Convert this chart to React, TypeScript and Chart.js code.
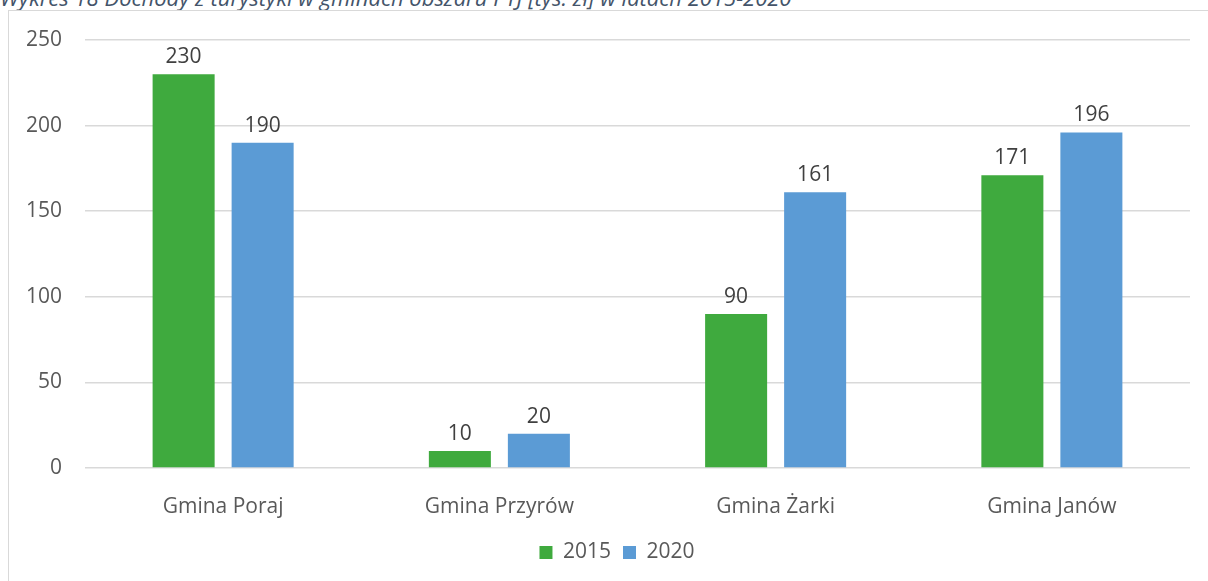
import React, { useEffect, useRef } from "react";
import { Chart, registerables } from "chart.js";

Chart.register(...registerables);

const titleText = "Wykres 18 Dochody z turystyki w gminach obszaru PTJ [tys. zł] w latach 2015-2020";
const categories = ["Gmina Poraj", "Gmina Przyrów", "Gmina Żarki", "Gmina Janów"];
const series2015 = [230, 10, 90, 171];
const series2020 = [190, 20, 161, 196];
const seriesLabels = ["2015", "2020"];
const yTicks = [0, 50, 100, 150, 200, 250];

const FONT = "'Open Sans', 'Noto Sans', sans-serif";
const TEXT = "#595959";
const FS = 21;

const dataLabelPlugin = {
  id: "dataLabels",
  afterDatasetsDraw(chart: any) {
    const ctx = chart.ctx;
    ctx.save();
    ctx.font = `${FS}px ${FONT}`;
    ctx.fillStyle = "#404040";
    ctx.textAlign = "center";
    ctx.textBaseline = "middle";
    chart.data.datasets.forEach((ds: any, i: number) => {
      const meta = chart.getDatasetMeta(i);
      meta.data.forEach((bar: any, j: number) => {
        ctx.fillText(String(ds.data[j]), bar.x, bar.y - 17);
      });
    });
    ctx.restore();
  },
};

const legendShiftPlugin = {
  id: "legendShift",
  afterLayout(chart: any) {
    const lg = chart.legend;
    if (lg) {
      lg.left += 22;
      lg.right += 22;
    }
  },
};

export default function App() {
  const ref = useRef<HTMLCanvasElement>(null);
  useEffect(() => {
    if (!ref.current) return;
    const chart = new Chart(ref.current, {
      type: "bar",
      data: {
        labels: categories,
        datasets: [
          { label: seriesLabels[0], data: series2015, backgroundColor: "#3FAA3E", barPercentage: 0.785, categoryPercentage: 0.572 },
          { label: seriesLabels[1], data: series2020, backgroundColor: "#5B9BD5", barPercentage: 0.785, categoryPercentage: 0.572 },
        ],
      },
      options: {
        animation: false,
        responsive: false,
        layout: { padding: { top: 40, right: 18, left: 0, bottom: 8 } },
        plugins: {
          tooltip: { enabled: false },
          legend: {
            position: "bottom",
            labels: {
              font: { family: FONT, size: FS },
              color: TEXT,
              boxWidth: 13,
              boxHeight: 13,
              padding: 12,
            },
          },
        },
        scales: {
          x: {
            grid: { display: false },
            border: { display: false },
            ticks: { font: { family: FONT, size: FS }, color: TEXT, padding: 18 },
            afterFit: (s: any) => { s.height = 62; },
          },
          y: {
            min: 0,
            max: 250,
            afterBuildTicks: (s: any) => { s.ticks = yTicks.map((v) => ({ value: v })); },
            grid: { color: "#D9D9D9", lineWidth: 1.5, drawTicks: false },
            border: { display: false },
            ticks: { font: { family: FONT, size: FS }, color: TEXT, padding: 23 },
            afterFit: (s: any) => { s.width = 85; },
          },
        },
      },
      plugins: [dataLabelPlugin, legendShiftPlugin],
    });
    return () => chart.destroy();
  }, []);

  return (
    <div style={{ position: "fixed", left: 0, top: 0, width: 1208, height: 581, overflow: "hidden", background: "#fff" }}>
      <div
        style={{
          position: "absolute",
          left: 0,
          top: -18,
          fontFamily: FONT,
          fontStyle: "italic",
          fontSize: 22,
          color: "#44546A",
          whiteSpace: "nowrap",
        }}
      >
        {titleText}
      </div>
      <div
        style={{
          position: "absolute",
          left: 8,
          top: 10,
          width: 1220,
          height: 600,
          border: "1.5px solid #D9D9D9",
        }}
      />
      <canvas ref={ref} width={1208} height={581} style={{ position: "absolute", left: 0, top: 0 }} />
    </div>
  );
}
